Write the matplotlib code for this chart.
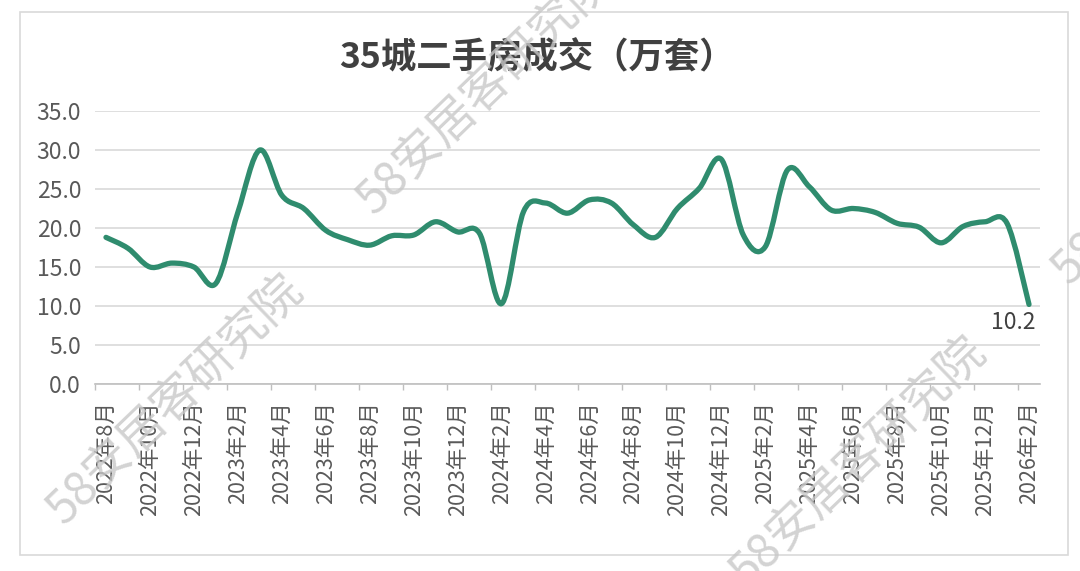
import matplotlib
matplotlib.use("Agg")
import matplotlib.pyplot as plt
from matplotlib.path import Path
from matplotlib.patches import PathPatch, Rectangle
import numpy as np

plt.rcParams['font.family'] = ['Noto Sans CJK SC', 'DejaVu Sans']

# ---- data (万套), monthly 2022-08 .. 2026-02 ----
months = ['2022年8月', '2022年9月', '2022年10月', '2022年11月', '2022年12月',
          '2023年1月', '2023年2月', '2023年3月', '2023年4月', '2023年5月',
          '2023年6月', '2023年7月', '2023年8月', '2023年9月', '2023年10月',
          '2023年11月', '2023年12月', '2024年1月', '2024年2月', '2024年3月',
          '2024年4月', '2024年5月', '2024年6月', '2024年7月', '2024年8月',
          '2024年9月', '2024年10月', '2024年11月', '2024年12月', '2025年1月',
          '2025年2月', '2025年3月', '2025年4月', '2025年5月', '2025年6月',
          '2025年7月', '2025年8月', '2025年9月', '2025年10月', '2025年11月',
          '2025年12月', '2026年1月', '2026年2月']
volume = [18.8, 17.4, 15.0, 15.5, 15.0,
          12.9, 22.0, 30.0, 24.2, 22.5,
          19.7, 18.5, 17.8, 19.0, 19.1,
          20.8, 19.5, 19.3, 10.3, 22.1,
          23.2, 21.9, 23.6, 23.2, 20.4,
          18.8, 22.5, 25.1, 28.8, 19.1,
          17.6, 27.4, 25.3, 22.3, 22.5,
          22.0, 20.6, 20.1, 18.1, 20.2,
          20.8, 20.6, 10.2]
yticks = [0, 5, 10, 15, 20, 25, 30, 35]

title = '35城二手房成交（万套）'
watermark = '58安居客研究院'
linecolor = '#2F8C6E'
gridcolor = '#D9D9D9'
textcolor = '#595959'


def smooth_path(xs, ys):
    # excel style smoothed line: cubic bezier through every point
    pts = np.column_stack([xs, ys]).astype(float)
    ext = np.vstack([pts[0], pts, pts[-1]])
    verts = [tuple(pts[0])]
    codes = [Path.MOVETO]
    for i in range(len(pts) - 1):
        p0, p1, p2, p3 = ext[i], ext[i + 1], ext[i + 2], ext[i + 3]
        c1 = p1 + (p2 - p0) / 6.0
        c2 = p2 - (p3 - p1) / 6.0
        verts += [tuple(c1), tuple(c2), tuple(p2)]
        codes += [Path.CURVE4] * 3
    return Path(verts, codes)


fig = plt.figure(figsize=(10.8, 5.71), dpi=100)
W, H = 1080.0, 571.0

# light frame round the chart
frame = Rectangle((20 / W, 1 - 555 / H), 1048 / W, 543 / H,
                  transform=fig.transFigure, facecolor='none',
                  edgecolor='#D9D9D9', linewidth=1.2, zorder=-1)
fig.patches.append(frame)

ax = fig.add_axes([95 / W, 1 - 384 / H, 945 / W, 273 / H])
ax.set_facecolor('none')

x = np.arange(len(volume))
ax.add_patch(PathPatch(smooth_path(x, volume), facecolor='none',
                       edgecolor=linecolor, linewidth=3.8,
                       capstyle='round', joinstyle='round', zorder=3))

ax.set_xlim(-0.5, len(volume) - 0.5)
ax.set_ylim(0, 35)

ax.set_yticks(yticks)
ax.set_yticklabels(['{:.1f}'.format(v) for v in yticks])
ax.yaxis.grid(True, color=gridcolor, linewidth=1.2)
ax.set_axisbelow(True)

ax.set_xticks(x[::2])
ax.set_xticklabels(months[::2], rotation=90)
ax.set_xticks(np.arange(-0.5, len(volume) - 1, 2), minor=True)
ax.tick_params(axis='x', which='major', length=0, pad=12.5,
               labelsize=15.5, labelcolor=textcolor)
ax.tick_params(axis='x', which='minor', length=4.5, width=1.0,
               color='#BFBFBF')
ax.tick_params(axis='y', length=0, pad=10, labelsize=16.5,
               labelcolor=textcolor)

for s in ['top', 'right', 'left']:
    ax.spines[s].set_visible(False)
ax.spines['bottom'].set_color('#BFBFBF')
ax.spines['bottom'].set_linewidth(1.2)

# last value label
ax.annotate('{:.1f}'.format(volume[-1]), (x[-1], volume[-1]),
            xytext=(5, -5), textcoords='offset points',
            ha='right', va='top', fontsize=16.5, color='#404040')

fig.text(537 / W, 1 - 58 / H, title, ha='center', va='center',
         fontsize=25.5, fontweight='bold', color='#404040')

# watermarks (partly outside the frame, as in the source image)
for cx, cy in [(175, 400), (485, 90), (858, 462), (1180, 160)]:
    fig.text(cx / W, 1 - cy / H, watermark, ha='center', va='center',
             rotation=44, rotation_mode='anchor', fontsize=34,
             color='#C8C8C8', alpha=0.8, zorder=5)

fig.savefig('out.png', dpi=100)
